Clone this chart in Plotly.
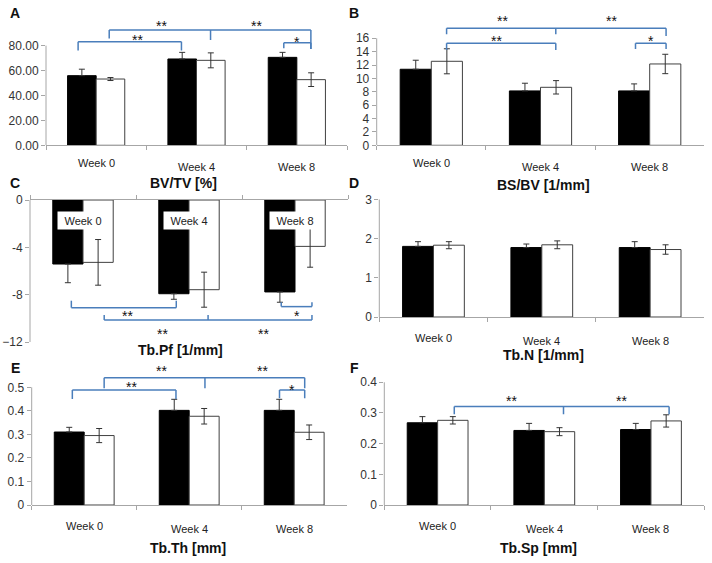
import plotly.graph_objects as go

W, H = 712, 563
FONT = "Liberation Sans, Arial, sans-serif"
weeks = ["Week 0", "Week 4", "Week 8"]

# ---- data (black = group 1, white = group 2) ----
bvtv_black = [55.9, 69.3, 70.6]
bvtv_black_err = [5.2, 5.3, 4.0]
bvtv_white = [53.2, 68.2, 52.7]
bvtv_white_err = [1.2, 6.0, 5.5]

bsbv_black = [11.37, 8.13, 8.13]
bsbv_black_err = [1.35, 1.15, 1.05]
bsbv_white = [12.56, 8.67, 12.16]
bsbv_white_err = [1.87, 1.0, 1.45]

tbpf_black = [-5.41, -7.92, -7.77]
tbpf_black_err = [1.58, 0.47, 0.87]
tbpf_white = [-5.27, -7.58, -3.92]
tbpf_white_err = [1.93, 1.48, 1.76]

tbn_black = [1.80, 1.77, 1.77]
tbn_black_err = [0.12, 0.09, 0.15]
tbn_white = [1.83, 1.84, 1.72]
tbn_white_err = [0.09, 0.10, 0.12]

tbth_black = [0.310, 0.402, 0.402]
tbth_black_err = [0.020, 0.047, 0.047]
tbth_white = [0.295, 0.377, 0.309]
tbth_white_err = [0.030, 0.033, 0.031]

tbsp_black = [0.268, 0.243, 0.246]
tbsp_black_err = [0.020, 0.023, 0.020]
tbsp_white = [0.276, 0.239, 0.274]
tbsp_white_err = [0.012, 0.013, 0.020]

# significance brackets: (x_left, x_right, bar_level, foot_left, foot_right, x_mid, foot_mid)
A_brackets = [(-0.18, 0.85, 83.2, 76.0, 76.0, None, None),
              (0.13, 2.14, 92.5, 85.8, 77.3, 1.14, 84.5),
              (1.87, 2.14, 82.4, 78.0, 77.3, None, None)]
A_stars = [("**", 0.41, 87.0), ("**", 0.65, 98.4), ("**", 1.60, 98.4), ("*", 2.0, 85.0)]

B_brackets = [(0.14, 2.15, 17.5, 16.6, 16.35, 1.14, 16.6),
              (0.14, 1.14, 15.25, 14.26, 14.26, None, None),
              (1.87, 2.15, 15.25, 14.4, 14.4, None, None)]
B_stars = [("**", 0.65, 19.0), ("**", 1.65, 19.0), ("**", 0.60, 16.0), ("*", 2.01, 16.0)]

C_brackets = [(-0.11, 0.88, -9.1, -8.51, -8.51, None, None),
              (0.2, 2.16, -10.14, -9.72, -9.72, 1.18, -9.72),
              (1.87, 2.16, -9.01, -8.65, -8.65, None, None)]
C_stars = [("**", 0.42, -9.58), ("*", 2.02, -9.52), ("**", 0.75, -11.05), ("**", 1.70, -11.05)]

E_brackets = [(-0.113, 0.874, 0.489, 0.450, 0.450, None, None),
              (0.19, 2.10, 0.541, 0.496, 0.496, 1.15, 0.496),
              (1.86, 2.10, 0.489, 0.453, 0.453, None, None)]
E_stars = [("**", 0.45, 0.515), ("*", 1.98, 0.503), ("**", 0.74, 0.582), ("**", 1.70, 0.582)]

F_brackets = [(0.156, 2.17, 0.321, 0.296, 0.296, 1.18, 0.296)]
F_stars = [("**", 0.69, 0.35), ("**", 1.72, 0.35)]

panels = [
    dict(letter="A", title="BV/TV [%]", black=bvtv_black, berr=bvtv_black_err, white=bvtv_white, werr=bvtv_white_err,
         xpx=(46, 347), ypx=(14, 145.3), yrange=[0, 105.4], tickvals=[0, 20, 40, 60, 80],
         ticktext=None, tickformat=".2f", yline=(0, 80), brackets=A_brackets, stars=A_stars,
         title_xy=(183, 183), letter_xy=(15, 13), lab=(-18, -21.5)),
    dict(letter="B", title="BS/BV [1/mm]", black=bsbv_black, berr=bsbv_black_err, white=bsbv_white, werr=bsbv_white_err,
         xpx=(376.7, 704.3), ypx=(14, 145.3), yrange=[0, 19.63], tickvals=list(range(0, 17, 2)),
         ticktext=None, tickformat="d", yline=(0, 16), brackets=B_brackets, stars=B_stars,
         title_xy=(543, 185), letter_xy=(354, 13), lab=(-18, -21.5)),
    dict(letter="C", title="Tb.Pf [1/mm]", black=tbpf_black, berr=tbpf_black_err, white=tbpf_white, werr=tbpf_white_err,
         xpx=(30, 348), ypx=(200, 342), yrange=[-12, 0], tickvals=[-12, -8, -4, 0],
         ticktext=["\u221212", "-8", "-4", "0"], tickformat=None, yline=(-12, 0), brackets=C_brackets, stars=C_stars,
         title_xy=(180, 350), letter_xy=(15, 183), lab=None),
    dict(letter="D", title="Tb.N [1/mm]", black=tbn_black, berr=tbn_black_err, white=tbn_white, werr=tbn_white_err,
         xpx=(379.3, 704.3), ypx=(199.3, 317), yrange=[0, 3], tickvals=[0, 1, 2, 3],
         ticktext=None, tickformat="d", yline=(0, 3), brackets=[], stars=[],
         title_xy=(543, 355), letter_xy=(354, 183), lab=(-21.3, -23.7)),
    dict(letter="E", title="Tb.Th [mm]", black=tbth_black, berr=tbth_black_err, white=tbth_white, werr=tbth_white_err,
         xpx=(31.7, 346.7), ypx=(360, 505), yrange=[0, 0.616], tickvals=[0, 0.1, 0.2, 0.3, 0.4, 0.5],
         ticktext=["0", "0.1", "0.2", "0.3", "0.4", "0.5"], tickformat=None, yline=(0, 0.5), brackets=E_brackets, stars=E_stars,
         title_xy=(188, 548), letter_xy=(15, 368), lab=(-20.7, -23.5)),
    dict(letter="F", title="Tb.Sp [mm]", black=tbsp_black, berr=tbsp_black_err, white=tbsp_white, werr=tbsp_white_err,
         xpx=(384.3, 704.3), ypx=(370, 505), yrange=[0, 0.44], tickvals=[0, 0.1, 0.2, 0.3, 0.4],
         ticktext=["0", "0.1", "0.2", "0.3", "0.4"], tickformat=None, yline=(0, 0.4), brackets=F_brackets, stars=F_stars,
         title_xy=(538, 548), letter_xy=(354, 368), lab=(-20.7, -23.5)),
]

AXIS_GRAY = "#a6a6a6"
ERR = "#333333"
BLUE = "#4a7ebb"

fig = go.Figure()
layout = dict(template="none", width=W, height=H, margin=dict(l=0, r=0, t=0, b=0, pad=0),
              paper_bgcolor="white", plot_bgcolor="white", barmode="group", bargap=0.43, bargroupgap=0,
              showlegend=False, font=dict(family=FONT, color="#222222"))
shapes, annotations = [], []


def ann(**kw):
    kw.setdefault("showarrow", False)
    kw.setdefault("xanchor", "center")
    kw.setdefault("yanchor", "middle")
    annotations.append(kw)


for i, p in enumerate(panels, start=1):
    xa, ya = f"x{i}", f"y{i}"
    xk, yk = f"xaxis{i}", f"yaxis{i}"
    negative = p["letter"] == "C"
    zeros = [0] * len(p["berr"])
    # black bars: error bar only in the direction away from zero (inner half hidden by the bar)
    berr = dict(type="data", symmetric=False, color=ERR, thickness=1, width=3,
                array=zeros if negative else p["berr"], arrayminus=p["berr"] if negative else zeros)
    fig.add_trace(go.Bar(x=weeks, y=p["black"], xaxis=xa, yaxis=ya,
                         marker=dict(color="black", line=dict(color="black", width=1)),
                         error_y=berr))
    fig.add_trace(go.Bar(x=weeks, y=p["white"], xaxis=xa, yaxis=ya,
                         marker=dict(color="white", line=dict(color="#404040", width=1)),
                         error_y=dict(type="data", array=p["werr"], color=ERR, thickness=1, width=3)))
    xl, xr = p["xpx"]
    yt, yb = p["ypx"]
    layout[xk] = dict(domain=[xl / W, xr / W], anchor=ya, type="category", range=[-0.5, 2.5],
                      tickson="boundaries", ticks="outside", ticklen=4, tickcolor=AXIS_GRAY,
                      showline=True, linecolor=AXIS_GRAY, linewidth=1, showticklabels=False,
                      showgrid=False, zeroline=False, fixedrange=True, automargin=False,
                      side="top" if negative else "bottom")
    yax = dict(domain=[1 - yb / H, 1 - yt / H], anchor=xa, range=p["yrange"], tickvals=p["tickvals"],
               ticks="outside", ticklen=4, tickcolor=AXIS_GRAY, showline=False, showgrid=False,
               zeroline=False, fixedrange=True, automargin=False,
               tickfont=dict(family=FONT, size=12, color="#333333"))
    if p["ticktext"]:
        yax["ticktext"] = p["ticktext"]
    if p["tickformat"]:
        yax["tickformat"] = p["tickformat"]
    layout[yk] = yax

    # y axis line only over the tick range
    shapes.append(dict(type="line", xref="paper", yref=ya, x0=xl / W, x1=xl / W,
                       y0=p["yline"][0], y1=p["yline"][1], line=dict(color=AXIS_GRAY, width=1)))

    # brackets
    for (x0, x1, lev, f0, f1, xm, fm) in p["brackets"]:
        segs = [(x0, f0, x0, lev), (x0, lev, x1, lev), (x1, lev, x1, f1)]
        if xm is not None:
            segs.append((xm, lev, xm, fm))
        for (a, b, c, d) in segs:
            shapes.append(dict(type="line", xref=xa, yref=ya, x0=a, y0=b, x1=c, y1=d,
                               line=dict(color=BLUE, width=1.5)))
    for (txt, sx, sy) in p["stars"]:
        ann(text=txt, x=sx, y=sy, xref=xa, yref=ya,
            font=dict(family=FONT, size=14, color="#111111"), yshift=-3)

    # category labels
    for k, w in enumerate(weeks):
        if negative:
            ann(text=w, x=k, y=-1.69, xref=xa, yref=ya, bgcolor="white", width=48, height=15,
                borderpad=1, font=dict(family=FONT, size=11, color="#222222"))
        else:
            ann(text=w, x=k, y=0, xref=xa, yref=ya,
                yshift=p["lab"][0] if k == 0 else p["lab"][1],
                font=dict(family=FONT, size=11, color="#222222"))
    # title and panel letter
    tx, ty = p["title_xy"]
    ann(text=f"<b>{p['title']}</b>", x=tx / W, y=1 - ty / H, xref="paper", yref="paper",
        font=dict(family=FONT, size=14, color="#111111"))
    lx, ly = p["letter_xy"]
    ann(text=f"<b>{p['letter']}</b>", x=lx / W, y=1 - ly / H, xref="paper", yref="paper",
        font=dict(family=FONT, size=14, color="#111111"))

layout["shapes"] = shapes
layout["annotations"] = annotations
fig.update_layout(**layout)
fig.write_html("out.html", config={"displayModeBar": False, "staticPlot": True},
               post_script="document.body.style.margin='0';document.body.style.overflow='hidden';")
